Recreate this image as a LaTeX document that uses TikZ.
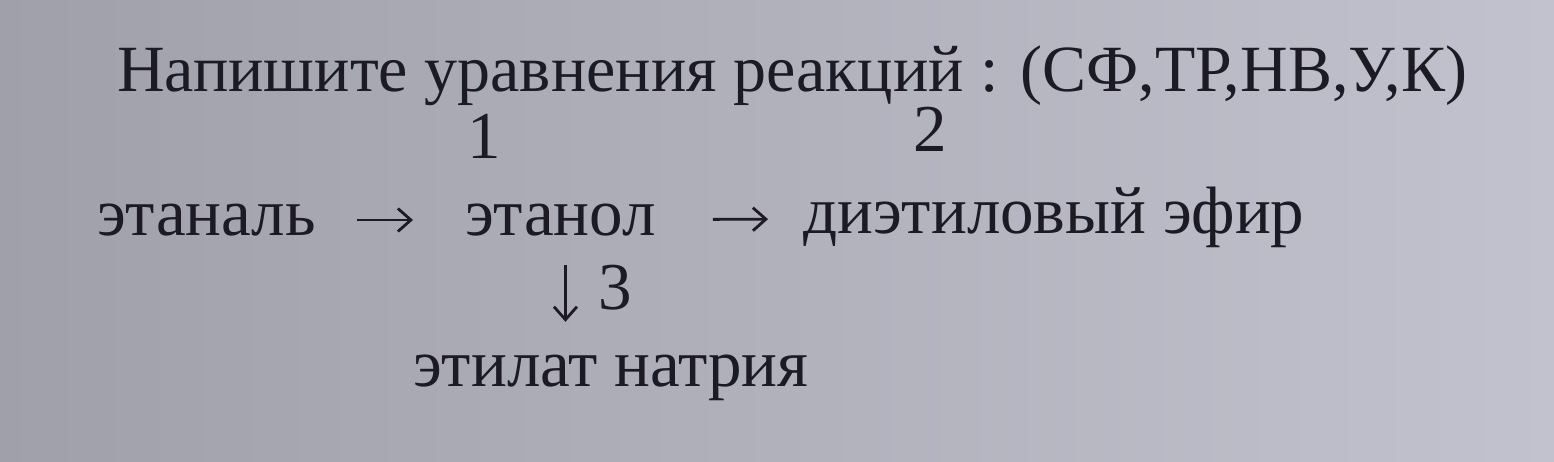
\documentclass[tikz,border=0pt]{standalone}
\usepackage{fontspec}
\setmainfont{Liberation Serif}
\usetikzlibrary{arrows.meta}
\definecolor{paperL}{RGB}{160,160,170}
\definecolor{paperR}{RGB}{194,194,206}
\definecolor{ink}{RGB}{28,26,34}
\begin{document}
\begin{tikzpicture}[x=1pt, y=-1pt,
    every node/.style={inner sep=0pt, text=ink, font=\fontsize{67}{74}\selectfont},
    compound/.style={anchor=base west, text height=32pt, text depth=0pt},
    steplabel/.style={text height=40pt, text depth=0pt},
    reacarrow/.style={draw=ink, line width=2.8pt, -{Straight Barb[length=13pt, width=23pt]}}]
    \useasboundingbox (0,0) rectangle (1554,462);
    \shade[left color=paperL, right color=paperR] (0,0) rectangle (1554,462);

    \node[anchor=base west, font=\fontsize{66}{74}\selectfont, text depth=10pt] (T) at (117, 92) {Напишите уравнения реакций : (СФ,ТР,НВ,У,К)};
    \node[steplabel, anchor=base] (L1) at (484, 159) {1};
    \node[steplabel, anchor=base] (L2) at (930, 152) {2};
    \node[compound] (A) at (97, 236) {этаналь};
    \node[compound] (B) at (465, 236) {этанол};
    \node[compound] (C) at (803, 234) {диэтиловый эфир};
    \node[steplabel, anchor=base west] (L3) at (598, 309) {3};
    \node[compound] (D) at (413, 386) {этилат натрия};

    \draw[reacarrow, shorten <=41pt, shorten >=52pt] (A) -- (B);
    \draw[reacarrow, shorten <=57pt, shorten >=35pt] (B) -- (C);
    \draw[reacarrow, shorten <=29pt, shorten >=32pt] ([xshift=5pt]B.south) -- ([xshift=5pt]B.south |- D.north);
\end{tikzpicture}
\end{document}
